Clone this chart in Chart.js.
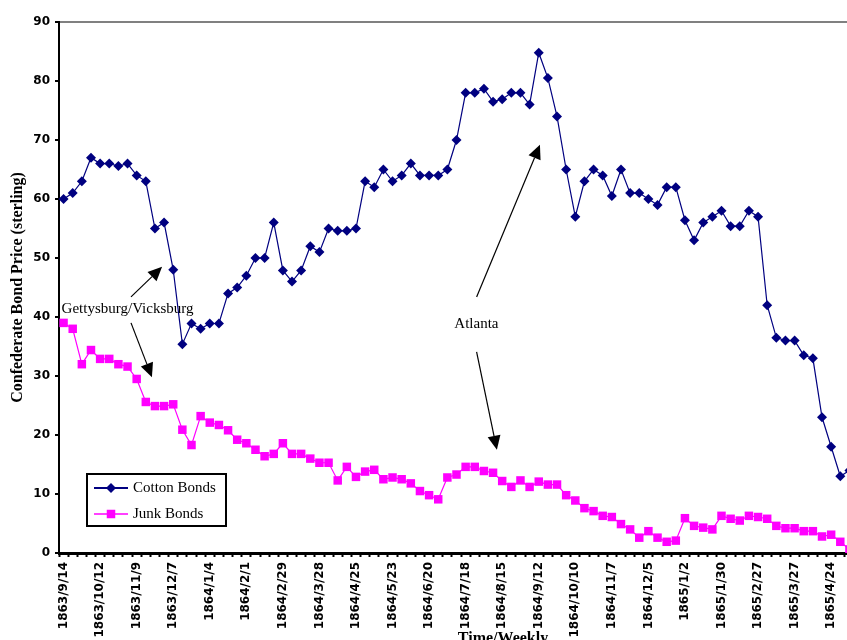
<!DOCTYPE html>
<html><head><meta charset="utf-8">
<script src="https://cdn.jsdelivr.net/npm/chart.js@4/dist/chart.umd.min.js"></script>
<style>html,body{margin:0;padding:0;background:#fff;overflow:hidden;width:847px;height:640px}canvas{display:block}</style>
</head><body><canvas id="c" width="900" height="640"></canvas>
<script>
const weeks = [
 '1863/9/14','1863/9/21','1863/9/28','1863/10/5','1863/10/12','1863/10/19','1863/10/26','1863/11/2','1863/11/9','1863/11/16','1863/11/23','1863/11/30','1863/12/7','1863/12/14','1863/12/21','1863/12/28',
 '1864/1/4','1864/1/11','1864/1/18','1864/1/25','1864/2/1','1864/2/8','1864/2/15','1864/2/22','1864/2/29','1864/3/7','1864/3/14','1864/3/21','1864/3/28','1864/4/4','1864/4/11','1864/4/18','1864/4/25',
 '1864/5/2','1864/5/9','1864/5/16','1864/5/23','1864/5/30','1864/6/6','1864/6/13','1864/6/20','1864/6/27','1864/7/4','1864/7/11','1864/7/18','1864/7/25','1864/8/1','1864/8/8','1864/8/15',
 '1864/8/22','1864/8/29','1864/9/5','1864/9/12','1864/9/19','1864/9/26','1864/10/3','1864/10/10','1864/10/17','1864/10/24','1864/10/31','1864/11/7','1864/11/14','1864/11/21','1864/11/28','1864/12/5',
 '1864/12/12','1864/12/19','1864/12/26','1865/1/2','1865/1/9','1865/1/16','1865/1/23','1865/1/30','1865/2/6','1865/2/13','1865/2/20','1865/2/27','1865/3/6','1865/3/13','1865/3/20','1865/3/27',
 '1865/4/3','1865/4/10','1865/4/17','1865/4/24','1865/5/1','1865/5/8'
];
const xTickLabels = ['1863/9/14','1863/10/12','1863/11/9','1863/12/7','1864/1/4','1864/2/1','1864/2/29','1864/3/28','1864/4/25','1864/5/23','1864/6/20','1864/7/18','1864/8/15','1864/9/12','1864/10/10','1864/11/7','1864/12/5','1865/1/2','1865/1/30','1865/2/27','1865/3/27','1865/4/24'];
const cottonBonds = [
 60,61,63,67,66,66,65.6,66,64,63,55,56,48,35.4,38.9,38,38.9,38.9,44,45,
 47,50,50,56,47.9,46,47.9,52,51,55,54.6,54.6,55,63,62,65,63,64,66,64,
 64,64,65,70,78,78,78.7,76.5,76.9,78,78,76,84.8,80.5,74,65,57,63,65,64,
 60.5,65,61,61,60,59,62,62,56.4,53,56,57,58,55.4,55.4,58,57,42,36.5,36,
 36,33.5,33,23,18,13,14
];
const junkBonds = [
 39,38,32,34.4,32.9,32.9,32,31.6,29.5,25.6,24.9,24.9,25.2,20.9,18.3,23.2,22.1,21.7,20.8,19.2,
 18.6,17.5,16.4,16.8,18.6,16.8,16.8,16,15.3,15.3,12.3,14.6,12.9,13.8,14.1,12.5,12.8,12.5,11.8,10.5,
 9.8,9.1,12.8,13.3,14.6,14.6,13.9,13.6,12.2,11.2,12.3,11.2,12.1,11.6,11.6,9.8,8.9,7.6,7.1,6.3,
 6.1,4.9,4.0,2.6,3.7,2.6,1.9,2.1,5.9,4.6,4.3,4.0,6.3,5.8,5.5,6.3,6.1,5.8,4.6,4.2,
 4.2,3.7,3.7,2.8,3.1,1.9,0.6
];
const seriesNames = ['Cotton Bonds','Junk Bonds'];
const yTitle = 'Confederate Bond Price (sterling)';
const xTitle = 'Time/Weekly';
const noteTexts = [
 {text:'Gettysburg/Vicksburg', x:7.0, y:41.4},
 {text:'Atlanta', x:45.18, y:38.8}
];
const noteArrows = [
 {from:[7.38,43.4], to:[10.78,48.5]},
 {from:[7.38,39.0], to:[9.67,29.8]},
 {from:[45.2,43.4], to:[52.13,69.2]},
 {from:[45.2,34.1], to:[47.42,17.5]}
];
const NAVY = '#000080', MAG = '#FF00FF';
const SERIF = '"Liberation Serif", "Times New Roman", serif';
const tickFont = {family:'"DejaVu Sans", sans-serif', weight:'bold', size:12};

function diamond(ctx, x, y, r){ctx.beginPath();ctx.moveTo(x,y-r);ctx.lineTo(x+r,y);ctx.lineTo(x,y+r);ctx.lineTo(x-r,y);ctx.closePath();ctx.fill();}
function square(ctx, x, y, s){ctx.fillRect(x-s/2,y-s/2,s,s);}

const extras = {
 id:'extras',
 afterDraw(chart){
  const ctx = chart.ctx, xs = chart.scales.x, ys = chart.scales.y, ca = chart.chartArea;
  ctx.save();
  ctx.fillStyle='#000'; ctx.font='15px '+SERIF; ctx.textAlign='center'; ctx.textBaseline='middle';
  noteTexts.forEach(n=>ctx.fillText(n.text, xs.getPixelForValue(n.x), ys.getPixelForValue(n.y)));
  ctx.strokeStyle='#000'; ctx.lineWidth=1.2;
  noteArrows.forEach(a=>{
   const x1=xs.getPixelForValue(a.from[0]), y1=ys.getPixelForValue(a.from[1]);
   const x2=xs.getPixelForValue(a.to[0]), y2=ys.getPixelForValue(a.to[1]);
   const ang=Math.atan2(y2-y1,x2-x1), L=14, W=6.5;
   const bx=x2-L*Math.cos(ang), by=y2-L*Math.sin(ang);
   ctx.beginPath(); ctx.moveTo(x1,y1); ctx.lineTo(bx,by); ctx.stroke();
   ctx.beginPath(); ctx.moveTo(x2,y2);
   ctx.lineTo(bx+W*Math.sin(ang), by-W*Math.cos(ang));
   ctx.lineTo(bx-W*Math.sin(ang), by+W*Math.cos(ang));
   ctx.closePath(); ctx.fill();
  });
  const x0=ca.left+28, y0=ca.top+452, w=139, h=52;
  ctx.fillStyle='#fff'; ctx.fillRect(x0,y0,w,h);
  ctx.strokeStyle='#000'; ctx.lineWidth=2; ctx.strokeRect(x0,y0,w,h);
  ctx.lineWidth=2;
  ctx.strokeStyle=NAVY; ctx.beginPath(); ctx.moveTo(x0+7,y0+14); ctx.lineTo(x0+41,y0+14); ctx.stroke();
  ctx.fillStyle=NAVY; diamond(ctx,x0+24,y0+14,5);
  ctx.strokeStyle=MAG; ctx.lineWidth=1.5; ctx.beginPath(); ctx.moveTo(x0+7,y0+40); ctx.lineTo(x0+41,y0+40); ctx.stroke();
  ctx.fillStyle=MAG; square(ctx,x0+24,y0+40,8.5);
  ctx.fillStyle='#000'; ctx.font='15px '+SERIF; ctx.textAlign='left'; ctx.textBaseline='middle';
  ctx.fillText(seriesNames[0], x0+46, y0+14);
  ctx.fillText(seriesNames[1], x0+46, y0+40);
  ctx.font='bold 16px '+SERIF; ctx.textAlign='center'; ctx.textBaseline='middle';
  ctx.save(); ctx.translate(18,(ca.top+ca.bottom)/2); ctx.rotate(-Math.PI/2); ctx.fillText(yTitle,0,0); ctx.restore();
  ctx.font='bold 16px '+SERIF; ctx.textBaseline='top';
  ctx.fillText(xTitle, 503, 631);
  ctx.restore();
 }
};

new Chart(document.getElementById('c'), {
 type:'line',
 data:{labels:weeks, datasets:[
  {label:seriesNames[0], data:cottonBonds, borderColor:NAVY, backgroundColor:NAVY, borderWidth:1.2,
   pointStyle:'rectRot', pointRadius:5, pointBorderWidth:0, pointBackgroundColor:NAVY, tension:0},
  {label:seriesNames[1], data:junkBonds, borderColor:MAG, backgroundColor:MAG, borderWidth:1.2,
   pointStyle:'rect', pointRadius:6, pointBorderWidth:0, pointBackgroundColor:MAG, tension:0}
 ]},
 options:{
  responsive:false, animation:false, devicePixelRatio:1,
  layout:{padding:{left:0,right:46,top:22,bottom:0}},
  plugins:{legend:{display:false}, tooltip:{enabled:false}},
  scales:{
   x:{type:'category', offset:true,
    grid:{offset:true, drawOnChartArea:false, drawTicks:true, tickLength:4, tickColor:'#000', tickWidth:2, color:'#000'},
    border:{display:true,color:'#000',width:3},
    ticks:{autoSkip:false, maxRotation:90, minRotation:90, padding:5, color:'#000', font:tickFont,
     callback(v){const l=this.getLabelForValue(v); return xTickLabels.includes(l)?l:'';}},
    afterFit(s){s.height=87;}
   },
   y:{min:0, max:90,
    ticks:{stepSize:10, padding:5, color:'#000', font:tickFont},
    grid:{drawOnChartArea:true, color:c=>(c.tick && c.tick.value===90)?'#808080':'rgba(0,0,0,0)', lineWidth:2, tickColor:'#000', tickWidth:2, tickLength:4},
    border:{display:true,color:'#000',width:2},
    afterFit(s){s.width=59;}
   }
  }
 },
 plugins:[extras]
});
</script></body></html>
